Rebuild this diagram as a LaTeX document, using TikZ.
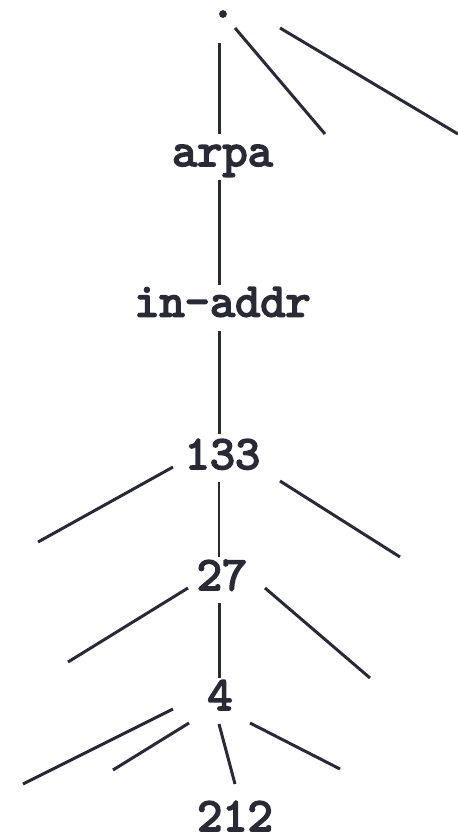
\documentclass[tikz,border=0pt]{standalone}
\usepackage{fontspec}
\newfontfamily\courbold{lmmono10-regular.otf}[FakeBold=3.5]
\definecolor{ink}{RGB}{42,42,54}
\tikzset{
  lbl/.style={inner sep=0pt, anchor=base, text=ink, font=\fontsize{48}{48}\selectfont\courbold},
  edge/.style={draw=ink, line width=3pt},
  thin/.style={draw=ink, line width=1.5pt}
}
\begin{document}
\begin{tikzpicture}[x=1pt,y=-1pt]
\useasboundingbox (0,0) rectangle (458,833);
% labels
\node[lbl] (root) at (223,17) {.};
\node[lbl] (arpa) at (222.5,166) {arpa};
\node[lbl] (inaddr) at (222.5,316.5) {in-addr};
\node[lbl] (n133) at (222.5,469) {133};
\node[lbl] (n27) at (222,590) {27};
\node[lbl] (n4) at (220,710) {4};
\node[lbl] (n212) at (235,831) {212};
% endpoints
\coordinate (r1a) at (219,43);  \coordinate (r1b) at (219,134);
\coordinate (r2a) at (235,28);  \coordinate (r2b) at (325,134);
\coordinate (r3a) at (280,28);  \coordinate (r3b) at (458,134);
\coordinate (a1a) at (219,180); \coordinate (a1b) at (219,285);
\coordinate (i1a) at (219,331); \coordinate (i1b) at (219,434);
\coordinate (c1a) at (173,467); \coordinate (c1b) at (38,542);
\coordinate (c2a) at (219,482); \coordinate (c2b) at (219,557);
\coordinate (c3a) at (280,481); \coordinate (c3b) at (400,557);
\coordinate (t1a) at (188,588); \coordinate (t1b) at (68,662);
\coordinate (t2a) at (219,603); \coordinate (t2b) at (219,678);
\coordinate (t3a) at (265,588); \coordinate (t3b) at (370,678);
\coordinate (f1a) at (173,709); \coordinate (f1b) at (23,784);
\coordinate (f2a) at (189,723); \coordinate (f2b) at (113,770);
\coordinate (f3a) at (219,724); \coordinate (f3b) at (235,784);
\coordinate (f4a) at (250,723); \coordinate (f4b) at (340,769);
% connectors
\draw[edge] (r1a) -- (r1b);
\draw[edge] (r2a) -- (r2b);
\draw[edge] (r3a) -- (r3b);
\draw[edge] (a1a) -- (a1b);
\draw[edge] (i1a) -- (i1b);
\draw[edge] (c1a) -- (c1b);
\draw[thin] (c2a) -- (c2b);
\draw[edge] (c3a) -- (c3b);
\draw[edge] (t1a) -- (t1b);
\draw[edge] (t2a) -- (t2b);
\draw[edge] (t3a) -- (t3b);
\draw[edge] (f1a) -- (f1b);
\draw[edge] (f2a) -- (f2b);
\draw[edge] (f3a) -- (f3b);
\draw[edge] (f4a) -- (f4b);
\end{tikzpicture}
\end{document}
